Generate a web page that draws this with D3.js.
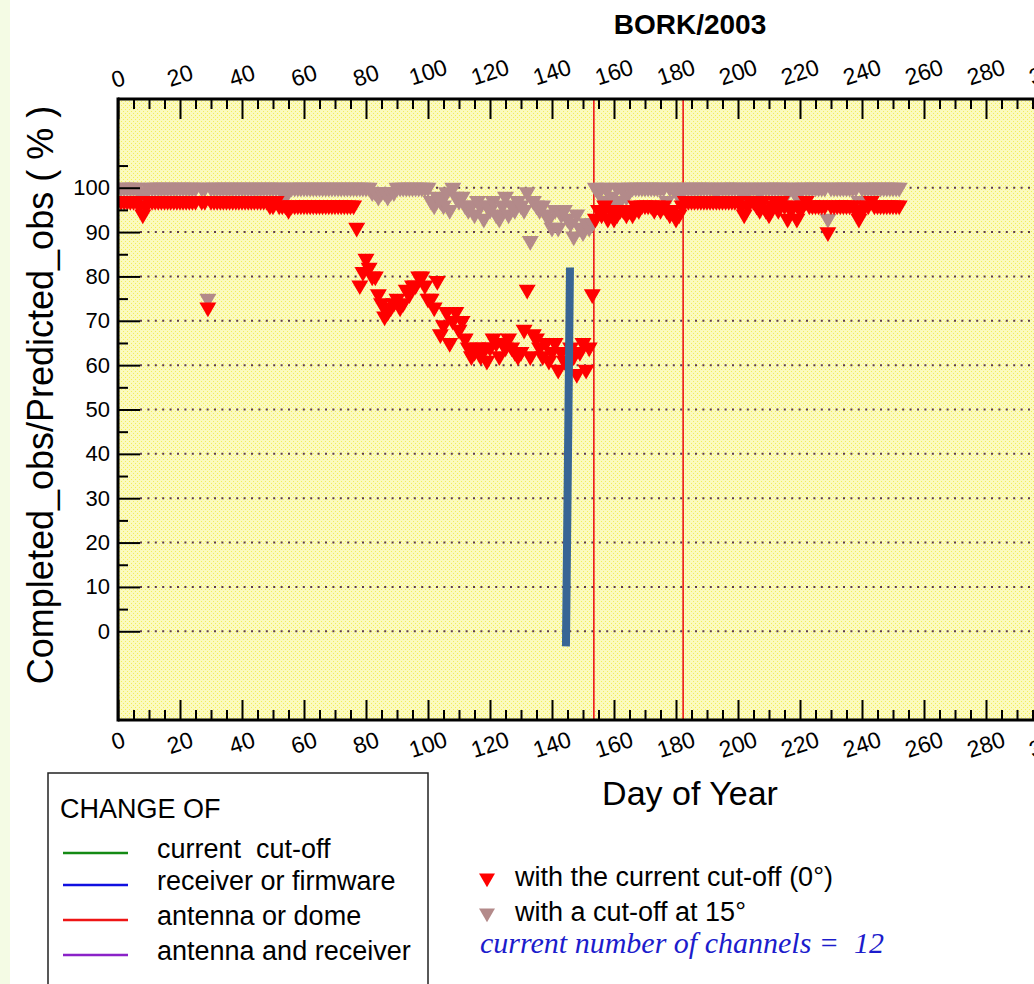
<!DOCTYPE html>
<html>
<head>
<meta charset="UTF-8">
<title>BORK/2003</title>
<script src="https://d3js.org/d3.v7.min.js"></script>
<style>
body { margin: 0; background: #fff; }
svg { display: block; font-family: "Liberation Sans", Arial, Helvetica, sans-serif; }
</style>
</head>
<body>
<div id="chart"></div>
<script>
// ---- data ----
var firstDay = 1; // first value below belongs to day 1

// with the current cut-off (0 deg), one value per day, null = no point
var redValues = [
  97,97,97,97,97,97,96,94,96,97,   97,97,97,97,97,97,97,97,97,97,
  97,97,97,97,97,null,97,97,73,97, 97,97,97,97,97,97,97,97,97,97,
  97,97,97,97,97,97,97,97,96,96,   97,96,96,96,95,96,96,96,96,96,
  96,96,96,96,96,96,96,96,96,96,   96,96,96,96,96,96,91,78,81,84,
  82,80,80,76,74,71,72,73,74,75,   73,74,77,76,78,78,80,80,78,75,
  75,73,79,67,69,72,65,70,72,68,   70,66,64,62,63,64,62,64,61,64,
  66,65,62,65,64,66,64,63,62,63,   68,77,62,67,66,64,62,65,61,63,
  65,59,63,61,60,64,62,58,63,65,   59,64,76,93,95,94,96,93,95,93,
  94,95,95,94,95,94,96,95,96,96,   96,96,95,96,95,96,95,94,95,93,
  94,96,97,97,97,97,97,97,97,97,   97,97,97,97,97,97,97,97,97,97,
  96,94,96,97,97,96,95,97,95,94,   96,97,95,97,96,93,95,96,93,95,
  96,97,96,96,96,96,96,96,90,96,   96,96,96,96,96,96,96,95,93,95,
  96,96,97,96,96,96,96,96,96,96,   96,96
];

// with a cut-off at 15 deg
var grayValues = [
  100,100,100,100,100,100,99,97,99,100,   100,100,100,100,100,100,100,100,100,100,
  100,100,100,100,100,null,100,100,75,100, 100,100,100,100,100,100,100,100,100,100,
  100,100,100,100,100,100,100,100,100,100, 100,100,100,98,100,100,100,100,100,100,
  100,100,100,100,100,100,100,100,100,100, 100,100,100,100,100,100,100,100,100,100,
  100,99,99,98,99,99,98,99,99,100,         100,100,100,100,100,100,100,100,100,100,
  97,96,98,97,96,99,95,100,98,97,          98,96,95,96,94,97,96,93,96,95,
  97,94,93,96,98,94,96,95,97,96,           95,99,88,97,96,95,96,94,93,91,
  95,91,94,95,93,92,89,94,91,90,           92,91,92,100,99,100,97,100,98,97,
  100,97,100,98,100,100,100,100,100,100,   100,100,100,100,100,100,97,100,100,100,
  98,100,100,100,100,100,100,100,100,100,  100,100,99,100,100,100,100,100,100,100,
  100,98,100,100,100,100,99,100,100,100,   100,100,100,100,100,99,100,100,98,100,
  100,100,100,100,100,100,100,100,93,100,  100,100,100,100,100,100,100,100,97,100,
  100,100,100,100,100,100,100,100,100,100, 100,100
];

// equipment change lines (antenna or dome), day of year
var antennaChanges = [153.5, 182.3];

// hand-drawn blue bar: [day, value] at its two ends
var blueBar = [[145.8, 82], [144.5, -3.4]];

var xMajor = d3.range(0, 301, 20);
var xMinor = d3.range(0, 301, 5).filter(function(d){ return d % 20 !== 0; });
var yMajor = [0, 10, 20, 30, 40, 50, 60, 70, 80, 90, 100];
var yMinor = [5, 15, 25, 35, 45, 55, 65, 75, 85, 95, 105];

var changeTypes = ["current  cut-off", "receiver or firmware", "antenna or dome", "antenna and receiver"];
var changeColors = ["#148a14", "#1010e0", "#ee1515", "#8a22c8"];

var seriesLabels = ["with the current cut-off (0\u00B0)", "with a cut-off at 15\u00B0"];
var redColor = "#ff0000";
var grayColor = "#b38a8a";

// ---- drawing ----
var W = 1034, H = 984;
var svg = d3.select("#chart").append("svg").attr("width", W).attr("height", H);

var defs = svg.append("defs");
var pat = defs.append("pattern").attr("id", "dots")
  .attr("patternUnits", "userSpaceOnUse").attr("width", 4).attr("height", 4);
pat.append("rect").attr("width", 4).attr("height", 4).attr("fill", "#fbfabf");
pat.append("rect").attr("x", 1).attr("y", 1).attr("width", 1).attr("height", 1).attr("fill", "#f3ed5c");
pat.append("rect").attr("x", 3).attr("y", 3).attr("width", 1).attr("height", 1).attr("fill", "#f3ed5c");

// pale strip at the left edge of the page
svg.append("rect").attr("x", 0).attr("y", 0).attr("width", 10).attr("height", H).attr("fill", "#f4fbe4");

var x = d3.scaleLinear().domain([0, 300]).range([118, 1048]);
var y = d3.scaleLinear().domain([-20, 120]).range([720, 99]);

defs.append("clipPath").attr("id", "plotclip")
  .append("rect").attr("x", x(0)).attr("y", y(120)).attr("width", x(300) - x(0)).attr("height", y(-20) - y(120));

svg.append("rect").attr("x", x(0)).attr("y", y(120))
  .attr("width", x(300) - x(0)).attr("height", y(-20) - y(120))
  .attr("fill", "url(#dots)");

// dotted grid
svg.append("g").selectAll("line").data(yMajor).enter().append("line")
  .attr("x1", x(0) + 22).attr("x2", W)
  .attr("y1", function(d){ return y(d); }).attr("y2", function(d){ return y(d); })
  .attr("stroke", "#5e3c4c").attr("stroke-width", 2).attr("stroke-dasharray", "2,5.4");

// red change lines
svg.append("g").selectAll("line").data(antennaChanges).enter().append("line")
  .attr("x1", function(d){ return x(d); }).attr("x2", function(d){ return x(d); })
  .attr("y1", y(120)).attr("y2", y(-20))
  .attr("stroke", "#ee1515").attr("stroke-width", 1.6);

// markers
var tri = d3.symbol().type(d3.symbolTriangle).size(125);
var plot = svg.append("g").attr("clip-path", "url(#plotclip)");

function drawSeries(values, color) {
  var pts = values.map(function(v, i){ return {day: firstDay + i, v: v}; })
    .filter(function(d){ return d.v !== null; });
  plot.append("g").selectAll("path").data(pts).enter().append("path")
    .attr("d", tri)
    .attr("transform", function(d){ return "translate(" + x(d.day) + "," + y(d.v) + ") rotate(180)"; })
    .attr("fill", color);
}
drawSeries(grayValues, grayColor);
drawSeries(redValues, redColor);

// blue bar
svg.append("line")
  .attr("x1", x(blueBar[0][0])).attr("y1", y(blueBar[0][1]))
  .attr("x2", x(blueBar[1][0])).attr("y2", y(blueBar[1][1]))
  .attr("stroke", "#386595").attr("stroke-width", 8);

// axes ticks
function tickStyle(g) {
  g.select(".domain").remove();
  g.selectAll(".tick line").attr("stroke", "#000").attr("stroke-width", 2);
}
svg.append("g").attr("transform", "translate(0," + y(120) + ")")
  .call(d3.axisBottom(x).tickValues(xMajor).tickSize(20).tickFormat("")).call(tickStyle);
svg.append("g").attr("transform", "translate(0," + y(120) + ")")
  .call(d3.axisBottom(x).tickValues(xMinor).tickSize(10).tickFormat("")).call(tickStyle);
svg.append("g").attr("transform", "translate(0," + y(-20) + ")")
  .call(d3.axisTop(x).tickValues(xMajor).tickSize(20).tickFormat("")).call(tickStyle);
svg.append("g").attr("transform", "translate(0," + y(-20) + ")")
  .call(d3.axisTop(x).tickValues(xMinor).tickSize(10).tickFormat("")).call(tickStyle);
svg.append("g").attr("transform", "translate(" + x(0) + ",0)")
  .call(d3.axisRight(y).tickValues(yMajor).tickSize(22).tickFormat("")).call(tickStyle);
svg.append("g").attr("transform", "translate(" + x(0) + ",0)")
  .call(d3.axisRight(y).tickValues(yMinor).tickSize(10).tickFormat("")).call(tickStyle);

// y labels
var yl = svg.append("g").attr("transform", "translate(" + x(0) + ",0)")
  .call(d3.axisLeft(y).tickValues(yMajor).tickSize(0).tickPadding(8));
yl.select(".domain").remove();
yl.selectAll("text").attr("font-size", 22).attr("fill", "#000")
  .attr("font-family", "'Liberation Sans', Arial, sans-serif");

// rotated x labels, top and bottom
function xLabels(baseY, slope) {
  var g = svg.append("g");
  g.selectAll("text").data(xMajor).enter().append("text")
    .text(function(d){ return d; })
    .attr("font-size", 23).attr("text-anchor", "middle").attr("dominant-baseline", "central")
    .each(function(d){
      var w = this.getComputedTextLength();
      var cy = baseY + slope * w;
      d3.select(this).attr("transform", "translate(" + x(d) + "," + cy + ") rotate(-18)");
    });
}
xLabels(82, -0.26);
xLabels(739, 0.14);

// frame
var frame = svg.append("g").attr("stroke", "#000").attr("stroke-width", 3);
frame.append("line").attr("x1", x(0)).attr("x2", x(0)).attr("y1", y(120) - 1.5).attr("y2", y(-20) + 1.5);
frame.append("line").attr("x1", x(0)).attr("x2", W).attr("y1", y(120)).attr("y2", y(120));
frame.append("line").attr("x1", x(0)).attr("x2", W).attr("y1", y(-20)).attr("y2", y(-20));

// titles
svg.append("text").attr("x", 690).attr("y", 34).attr("text-anchor", "middle")
  .attr("font-size", 28).attr("font-weight", "bold").text("BORK/2003");
svg.append("text").attr("x", 690).attr("y", 805).attr("text-anchor", "middle")
  .attr("font-size", 34).text("Day of Year");
svg.append("text").attr("transform", "translate(53,395) rotate(-90)").attr("text-anchor", "middle")
  .attr("font-size", 36).text("Completed_obs/Predicted_obs ( % )");

// legend box for change lines
var lg = svg.append("g");
lg.append("rect").attr("x", 48).attr("y", 773).attr("width", 380).attr("height", 230)
  .attr("fill", "#fff").attr("stroke", "#222").attr("stroke-width", 1.5);
lg.append("text").attr("x", 60).attr("y", 818).attr("font-size", 27).text("CHANGE OF");
var lineY = [853, 885, 920, 955];
lg.selectAll(".item").data(changeTypes).enter().append("g")
  .each(function(d, i){
    var g = d3.select(this);
    g.append("line").attr("x1", 63).attr("x2", 128).attr("y1", lineY[i]).attr("y2", lineY[i])
      .attr("stroke", changeColors[i]).attr("stroke-width", 2.5);
    g.append("text").attr("x", 157).attr("y", lineY[i] + 5).attr("font-size", 27)
      .style("white-space", "pre").text(d);
  });

// legend for markers
var ml = svg.append("g");
var markY = [878, 913];
[redColor, grayColor].forEach(function(c, i){
  ml.append("path").attr("d", d3.symbol().type(d3.symbolTriangle).size(110))
    .attr("transform", "translate(487," + markY[i] + ") rotate(180)").attr("fill", c);
  ml.append("text").attr("x", 515).attr("y", markY[i] + 8).attr("font-size", 27)
    .style("white-space", "pre").text(seriesLabels[i]);
});
ml.append("text").attr("x", 480).attr("y", 953)
  .attr("font-family", "'Liberation Serif', 'DejaVu Serif', serif").attr("font-style", "italic")
  .attr("font-size", 30).attr("fill", "#1c1ccc")
  .style("white-space", "pre").text("current number of channels =  12");
</script>
</body>
</html>
